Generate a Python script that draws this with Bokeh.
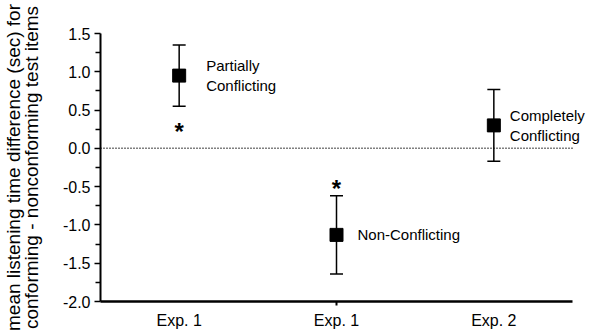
from bokeh.plotting import figure
from bokeh.models import (FixedTicker, LinearAxis, Whisker, TeeHead,
                          ColumnDataSource, PrintfTickFormatter, Range1d, LabelSet)
from bokeh.core.properties import value
from bokeh.embed import file_html
from bokeh.resources import INLINE

# ---- data ----
positions = [1, 2, 3]
tick_labels = ["Exp. 1", "Exp. 1", "Exp. 2"]
conditions = ["Partially\nConflicting", "Non-Conflicting", "Completely\nConflicting"]
means = [0.95, -1.13, 0.30]
errors = [0.40, 0.51, 0.47]
star_x = [1, 2]
star_y = [0.29, -0.46]
y_ticks = [-2.0, -1.5, -1.0, -0.5, 0.0, 0.5, 1.0, 1.5]
y_minor = [-1.75, -1.25, -0.75, -0.25, 0.25, 0.75, 1.25]
x_lo, x_hi = 0.5, 3.5
y_lo, y_hi = -2.0, 1.5
ref_line = 0.0

FONT = "Liberation Sans"
AXIS_PX = 472      # length of the drawn x axis
FRAME_PX = 486     # frame is wider so right-hand labels are not clipped

upper = [m + e for m, e in zip(means, errors)]
lower = [m - e for m, e in zip(means, errors)]
src = ColumnDataSource(dict(x=positions, mean=means, upper=upper, lower=lower,
                            label=conditions, xoff=[27, 21, 16]))

p = figure(frame_width=FRAME_PX, frame_height=268, output_backend="svg",
           toolbar_location=None,
           x_range=Range1d(x_lo, x_lo + (x_hi - x_lo) * FRAME_PX / AXIS_PX),
           y_range=Range1d(y_lo, y_hi), x_axis_location=None,
           min_border_left=92, min_border_right=0, min_border_top=33,
           min_border_bottom=0)
p.outline_line_color = None
p.grid.visible = False
p.background_fill_color = "white"

# y axis
ya = p.yaxis[0]
ya.ticker = FixedTicker(ticks=y_ticks, minor_ticks=y_minor)
ya.formatter = PrintfTickFormatter(format="%.1f")
ya.axis_line_width = 2
ya.major_tick_line_width = 1.5
ya.minor_tick_line_width = 1.5
ya.major_tick_out = 6
ya.major_tick_in = 0
ya.minor_tick_out = 5
ya.minor_tick_in = 0
ya.major_label_standoff = 4
ya.major_label_text_font = FONT
ya.major_label_text_font_size = "16px"
ya.major_label_text_color = "black"
ya.axis_label = "mean listening time difference (sec) for\nconforming - nonconforming test items"
ya.axis_label_text_font = FONT
ya.axis_label_text_font_size = "19px"
ya.axis_label_text_font_style = "normal"
ya.axis_label_text_color = "black"
ya.axis_label_text_line_height = 0.85
ya.axis_label_standoff = 18

# x axis: line + single tick
xa = LinearAxis(ticker=FixedTicker(ticks=[positions[1]], minor_ticks=[]),
                major_label_overrides={positions[1]: ""},
                major_label_text_font_size="0px", bounds=(x_lo, x_hi),
                axis_line_width=2.5, major_tick_line_width=2,
                major_tick_out=4, major_tick_in=0, major_label_standoff=0)
p.add_layout(xa, "below")
# x labels
xl = LinearAxis(ticker=FixedTicker(ticks=positions, minor_ticks=[]),
                major_label_overrides={x: t for x, t in zip(positions, tick_labels)},
                axis_line_color=None, major_tick_line_color=None,
                major_tick_out=0, major_tick_in=0, major_label_standoff=6,
                major_label_text_font=FONT, major_label_text_font_size="16px",
                major_label_text_color="black")
p.add_layout(xl, "below")

# zero line (dotted, across the axis extent)
p.line([x_lo, x_hi], [ref_line, ref_line], line_color="black",
       line_width=1.5, line_dash="1 2")

# error bars
p.add_layout(Whisker(source=src, base="x", upper="upper", lower="lower",
                     line_width=1.5, line_color="black",
                     upper_head=TeeHead(size=13, line_width=1.5, line_color="black"),
                     lower_head=TeeHead(size=13, line_width=1.5, line_color="black")))

p.scatter("x", "mean", source=src, marker="square", size=13,
          fill_color="black", line_color="black")

p.add_layout(LabelSet(x="x", y="mean", text="label", source=src, x_offset="xoff",
                      text_font=value(FONT), text_font_size="15px", text_color="black",
                      text_baseline="middle", text_align="left",
                      text_line_height=1.2))

p.text(star_x, star_y, text=["*", "*"], text_font=value(FONT),
       text_font_size="24px", text_font_style="bold", text_color="black",
       text_align="center", text_baseline="middle", y_offset=5)

open("out.html", "w").write(file_html(p, INLINE))
